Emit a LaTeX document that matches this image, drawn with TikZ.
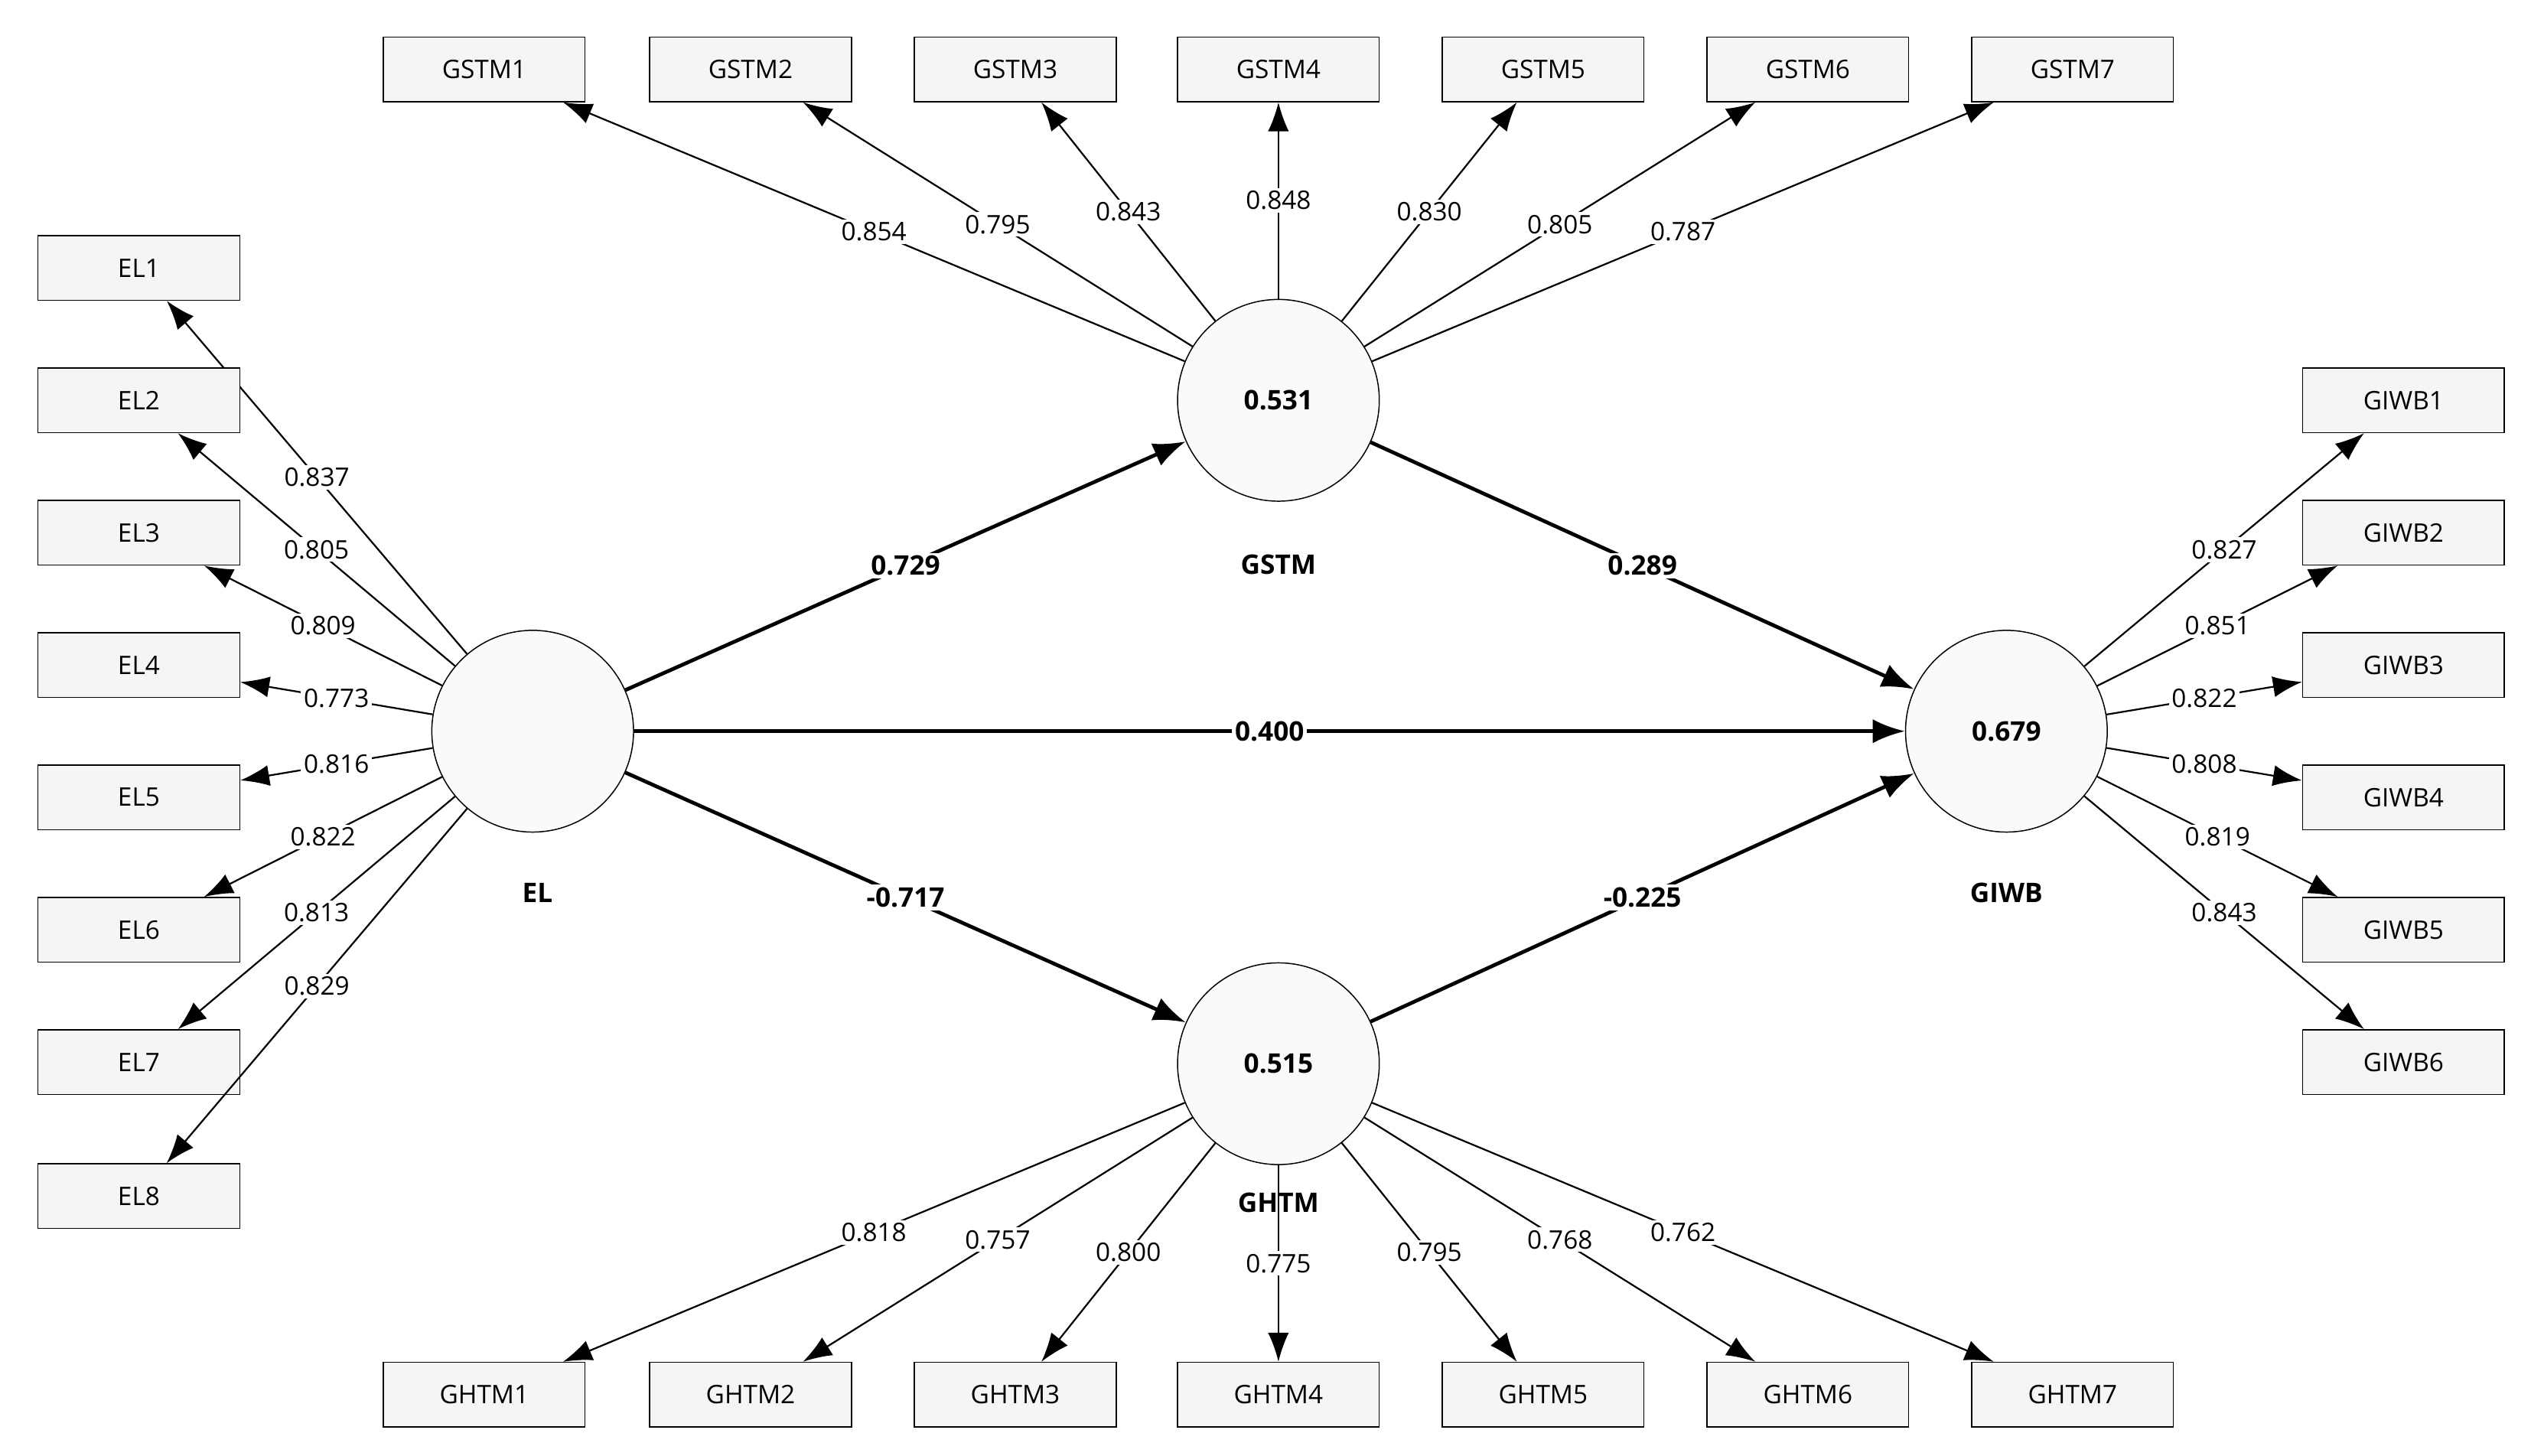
\documentclass[tikz,border=0pt]{standalone}
\usepackage{fontspec}
\setmainfont{Open Sans}
\usetikzlibrary{arrows.meta}
\begin{document}
\begin{tikzpicture}[x=0.02cm,y=-0.02cm,
 box/.style={draw,fill=black!4,minimum width=2.5cm,minimum height=0.8cm,inner sep=0pt,font=\fontsize{9}{10}\selectfont},
 lv/.style={draw,circle,fill=black!2,minimum size=2.5cm,inner sep=0pt,font=\bfseries\fontsize{9.5}{11}\selectfont},
 ld/.style={-{Latex[length=0.36cm,width=0.26cm]},line width=0.6pt},
 pc/.style={-{Latex[length=0.4cm,width=0.3cm]},line width=1.3pt},
 lab/.style={fill=white,inner sep=1pt,font=\fontsize{9}{10}\selectfont},
 blab/.style={fill=white,inner sep=1pt,font=\bfseries\fontsize{9.5}{11}\selectfont},
 nm/.style={font=\bfseries\fontsize{9.5}{11}\selectfont}]
\useasboundingbox (0,0) rectangle (1568,902);
\node[lv] (EL) at (330,453) {};
\node[lv] (GSTM) at (792,248) {0.531};
\node[lv] (GIWB) at (1243,453) {0.679};
\node[lv] (GHTM) at (792,659) {0.515};
\node[nm] (nEL) at (333,553) {EL};
\node[nm] (nGSTM) at (792,350) {GSTM};
\node[nm] (nGIWB) at (1243,553) {GIWB};
\node[nm] (nGHTM) at (792,745) {GHTM};
\foreach \i/\y/\v in {1/166/0.837,2/248/0.805,3/330/0.809,4/412/0.773,5/494/0.816,6/576/0.822,7/658/0.813,8/741/0.829}{
 \node[box] (EL\i) at (86,\y) {EL\i};
 \draw[ld] (EL) -- node[lab,pos=0.5]{\v} (EL\i);}
\foreach \i/\x/\v in {1/300/0.854,2/465/0.795,3/629/0.843,4/792/0.848,5/956/0.830,6/1120/0.805,7/1284/0.787}{
 \node[box] (GSTM\i) at (\x,43) {GSTM\i};
 \draw[ld] (GSTM) -- node[lab,pos=0.5]{\v} (GSTM\i);}
\foreach \i/\x/\v in {1/300/0.818,2/465/0.757,3/629/0.800,4/792/0.775,5/956/0.795,6/1120/0.768,7/1284/0.762}{
 \node[box] (GHTM\i) at (\x,864) {GHTM\i};
 \draw[ld] (GHTM) -- node[lab,pos=0.5]{\v} (GHTM\i);}
\foreach \i/\y/\v in {1/248/0.827,2/330/0.851,3/412/0.822,4/494/0.808,5/576/0.819,6/658/0.843}{
 \node[box] (GIWB\i) at (1489,\y) {GIWB\i};
 \draw[ld] (GIWB) -- node[lab,pos=0.5]{\v} (GIWB\i);}
\draw[pc] (EL) -- node[blab]{0.729} (GSTM);
\draw[pc] (GSTM) -- node[blab]{0.289} (GIWB);
\draw[pc] (EL) -- node[blab]{0.400} (GIWB);
\draw[pc] (EL) -- node[blab]{-0.717} (GHTM);
\draw[pc] (GHTM) -- node[blab]{-0.225} (GIWB);
\end{tikzpicture}
\end{document}
